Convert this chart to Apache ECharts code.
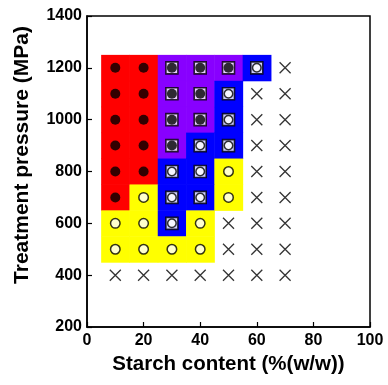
<!DOCTYPE html>
<html>
<head>
<meta charset="utf-8">
<script src="https://cdn.jsdelivr.net/npm/echarts@6/dist/echarts.min.js"></script>
<style>html,body{margin:0;padding:0;background:#fff;}#c{width:388px;height:385px;}</style>
</head>
<body>
<div id="c"></div>
<script>
// Starch content (x) columns and treatment pressure (y) rows
const xValues = [10, 20, 30, 40, 50, 60, 70];
const yValues = [1200, 1100, 1000, 900, 800, 700, 600, 500, 400];
// Region colour per cell (R red, P purple, B blue, Y yellow, . none), rows top to bottom
const regionRows = [
  'RRPPPB.',
  'RRPPB..',
  'RRPPB..',
  'RRPBB..',
  'RRBBY..',
  'RYBBY..',
  'YYBY...',
  'YYYY...',
  '.......'
];
// Marker per cell: F filled circle, O open circle, SF square+filled circle, SO square+open circle, X cross
const markerRows = [
  ['F','F','SF','SF','SF','SO','X'],
  ['F','F','SF','SF','SO','X','X'],
  ['F','F','SF','SF','SO','X','X'],
  ['F','F','SF','SO','SO','X','X'],
  ['F','F','SO','SO','O','X','X'],
  ['F','O','SO','SO','O','X','X'],
  ['O','O','SO','O','X','X','X'],
  ['O','O','O','O','X','X','X'],
  ['X','X','X','X','X','X','X']
];
const xTicks = [0, 20, 40, 60, 80, 100];
const yTicks = [200, 400, 600, 800, 1000, 1200, 1400];
const cellWidth = 10;   // data units
const cellHeight = 100; // data units

const regionColors = { R: '#ff0000', P: '#8800ff', B: '#0000ff', Y: '#ffff00' };

const cells = [];
const filled = [], open = [], squares = [], sqFilled = [], sqOpen = [], crosses = [];
yValues.forEach((y, r) => {
  xValues.forEach((x, c) => {
    const reg = regionRows[r][c];
    if (reg !== '.') cells.push([x, y, reg]);
    const m = markerRows[r][c];
    if (m === 'F') filled.push([x, y]);
    else if (m === 'O') open.push([x, y]);
    else if (m === 'SF') { squares.push([x, y]); sqFilled.push([x, y]); }
    else if (m === 'SO') { squares.push([x, y]); sqOpen.push([x, y]); }
    else if (m === 'X') crosses.push([x, y]);
  });
});

const chart = echarts.init(document.getElementById('c'), null, { renderer: 'canvas' });
const font = 'Liberation Sans, Arial, sans-serif';
chart.setOption({
  animation: false,
  backgroundColor: '#ffffff',
  grid: { left: 87, right: 18, top: 16, bottom: 58, show: true, borderColor: '#000', borderWidth: 1.5, backgroundColor: 'transparent' },
  xAxis: {
    type: 'value', min: xTicks[0], max: xTicks[xTicks.length - 1], interval: 20,
    name: 'Starch content (%(w/w))', nameLocation: 'middle', nameGap: 24,
    nameTextStyle: { fontFamily: font, fontWeight: 'bold', fontSize: 20.5, color: '#000' },
    axisLine: { lineStyle: { color: '#000', width: 1.5 } },
    axisTick: { inside: true, length: 5, lineStyle: { color: '#000', width: 1.2 } },
    axisLabel: { margin: 6, fontFamily: font, fontWeight: 'bold', fontSize: 16, color: '#000', formatter: function (v) { return String(v); } },
    splitLine: { show: false }
  },
  yAxis: {
    type: 'value', min: yTicks[0], max: yTicks[yTicks.length - 1], interval: 200,
    axisLine: { show: true, lineStyle: { color: '#000', width: 1.5 } },
    axisTick: { show: true, inside: true, length: 5, lineStyle: { color: '#000', width: 1.2 } },
    axisLabel: { margin: 5, fontFamily: font, fontWeight: 'bold', fontSize: 16, color: '#000', formatter: function (v) { return String(v); } },
    splitLine: { show: false }
  },
  graphic: [{
    type: 'text', x: 22, y: 155, rotation: Math.PI / 2,
    style: { text: 'Treatment pressure (MPa)', fontFamily: font, fontWeight: 'bold', fontSize: 21, fill: '#000', align: 'center', verticalAlign: 'middle' }
  }],
  series: [
    {
      type: 'custom', z: 1,
      data: cells,
      renderItem: function (params, api) {
        const x = api.value(0), y = api.value(1);
        const p = api.coord([x - cellWidth / 2, y + cellHeight / 2]);
        const s = api.size([cellWidth, cellHeight]);
        return {
          type: 'rect',
          shape: { x: p[0], y: p[1], width: s[0] + 0.5, height: s[1] + 0.5 },
          style: { fill: regionColors[cells[params.dataIndex][2]] }
        };
      }
    },
    { type: 'scatter', z: 3, data: squares, symbol: 'rect', symbolSize: 12, itemStyle: { color: '#fff', borderColor: '#000', borderWidth: 1.6 } },
    { type: 'scatter', z: 4, data: sqFilled, symbol: 'circle', symbolSize: 10, itemStyle: { color: '#000' } },
    { type: 'scatter', z: 4, data: sqOpen, symbol: 'circle', symbolSize: 8.5, itemStyle: { color: '#fff', borderColor: '#000', borderWidth: 1.5 } },
    { type: 'scatter', z: 4, data: filled, symbol: 'circle', symbolSize: 10, itemStyle: { color: '#000' } },
    { type: 'scatter', z: 4, data: open, symbol: 'circle', symbolSize: 9.5, itemStyle: { color: '#fff', borderColor: '#000', borderWidth: 1.5 } },
    { type: 'scatter', z: 4, data: crosses, symbol: 'path://M0,0L10,10M10,0L0,10', symbolSize: 11, itemStyle: { color: 'none', borderColor: '#000', borderWidth: 1.3 } }
  ]
});
</script>
</body>
</html>
